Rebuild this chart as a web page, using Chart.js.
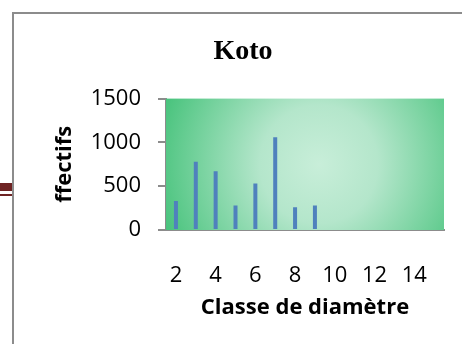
<!DOCTYPE html>
<html>
<head>
<meta charset="utf-8">
<script src="https://cdn.jsdelivr.net/npm/chart.js@4/dist/chart.umd.min.js"></script>
<style>
  html, body { margin: 0; padding: 0; background: #ffffff; }
  #wrap { position: relative; width: 462px; height: 344px; overflow: hidden; }
  #frame { position: absolute; left: 12px; top: 12px; width: 460px; height: 340px;
           border-left: 2px solid #8c8c8c; border-top: 2px solid #8c8c8c; }
  #rule1 { position: absolute; left: 0; top: 183px; width: 12px; height: 8px; background: #6e2323; }
  #rule2 { position: absolute; left: 0; top: 194px; width: 12px; height: 2px; background: #6e2323; }
  canvas { position: absolute; left: 0; top: 0; }
</style>
</head>
<body>
<div id="wrap">
  <div id="frame"></div>
  <div id="rule1"></div>
  <div id="rule2"></div>
  <canvas id="c" width="462" height="344"></canvas>
</div>
<script>
const categories = [2, 3, 4, 5, 6, 7, 8, 9, 10, 11, 12, 13, 14, 15];
const effectifs = [330, 780, 670, 280, 530, 1060, 260, 280, 0, 0, 0, 0, 0, 0];
const yTicks = [0, 500, 1000, 1500];
const chartTitle = 'Koto';
const xTitle = 'Classe de diamètre';
const yTitle = 'ffectifs';

const bgPlugin = {
  id: 'plotBg',
  beforeDatasetsDraw(chart) {
    const a = chart.chartArea;
    const ctx = chart.ctx;
    const cx = a.left + (a.right - a.left) * 0.55;
    const cy = a.top + (a.bottom - a.top) * 0.5;
    const r = Math.hypot(a.right - a.left, a.bottom - a.top) * 0.55;
    const g = ctx.createRadialGradient(cx, cy, 0, cx, cy, r);
    g.addColorStop(0, '#c8eed9');
    g.addColorStop(0.35, '#b4e6cb');
    g.addColorStop(1, '#45c27a');
    ctx.save();
    ctx.fillStyle = g;
    ctx.fillRect(a.left, a.top, a.right - a.left, a.bottom - a.top);
    ctx.restore();
  }
};

new Chart(document.getElementById('c'), {
  type: 'bar',
  data: {
    labels: categories,
    datasets: [{
      data: effectifs,
      backgroundColor: '#4f81bd',
      barThickness: 4,
      inflateAmount: 0
    }]
  },
  plugins: [bgPlugin],
  options: {
    responsive: false,
    animation: false,
    layout: { padding: { left: 42, right: 18, top: 21, bottom: 14 } },
    plugins: {
      legend: { display: false },
      tooltip: { enabled: false },
      title: {
        display: true,
        text: chartTitle,
        color: '#000000',
        font: { family: '"Liberation Serif", "Times New Roman", serif', size: 28, weight: 'bold' },
        padding: { top: 14, bottom: 30 }
      }
    },
    scales: {
      x: {
        grid: { display: false },
        border: { display: true, color: '#8c8c8c', width: 2 },
        ticks: {
          autoSkip: false,
          maxRotation: 0,
          minRotation: 0,
          padding: 25,
          color: '#000000',
          font: { family: '"Open Sans", sans-serif', size: 22 },
          callback: function (v, i) { const c = categories[i]; return c % 2 === 0 ? String(c) : ''; }
        },
        title: {
          display: true,
          text: xTitle,
          color: '#000000',
          font: { family: '"Open Sans", sans-serif', size: 22, weight: 'bold' },
          padding: { top: 0, bottom: 9 }
        },
        afterFit(scale) { scale.height = 100; }
      },
      y: {
        min: 0,
        max: 1500,
        afterBuildTicks(scale) { scale.ticks = yTicks.map(v => ({ value: v })); },
        grid: { drawOnChartArea: false, drawTicks: true, tickLength: 8, color: '#8c8c8c', lineWidth: 2 },
        border: { display: true, color: '#8c8c8c', width: 2 },
        ticks: {
          padding: 17,
          color: '#000000',
          font: { family: '"Open Sans", sans-serif', size: 22 },
          callback: function (v) { return String(v); }
        },
        title: {
          display: true,
          text: yTitle,
          color: '#000000',
          font: { family: '"Open Sans", sans-serif', size: 22, weight: 'bold' },
          padding: { top: 10, bottom: 0 }
        },
        afterFit(scale) { scale.width = 124; }
      }
    }
  }
});
</script>
</body>
</html>
